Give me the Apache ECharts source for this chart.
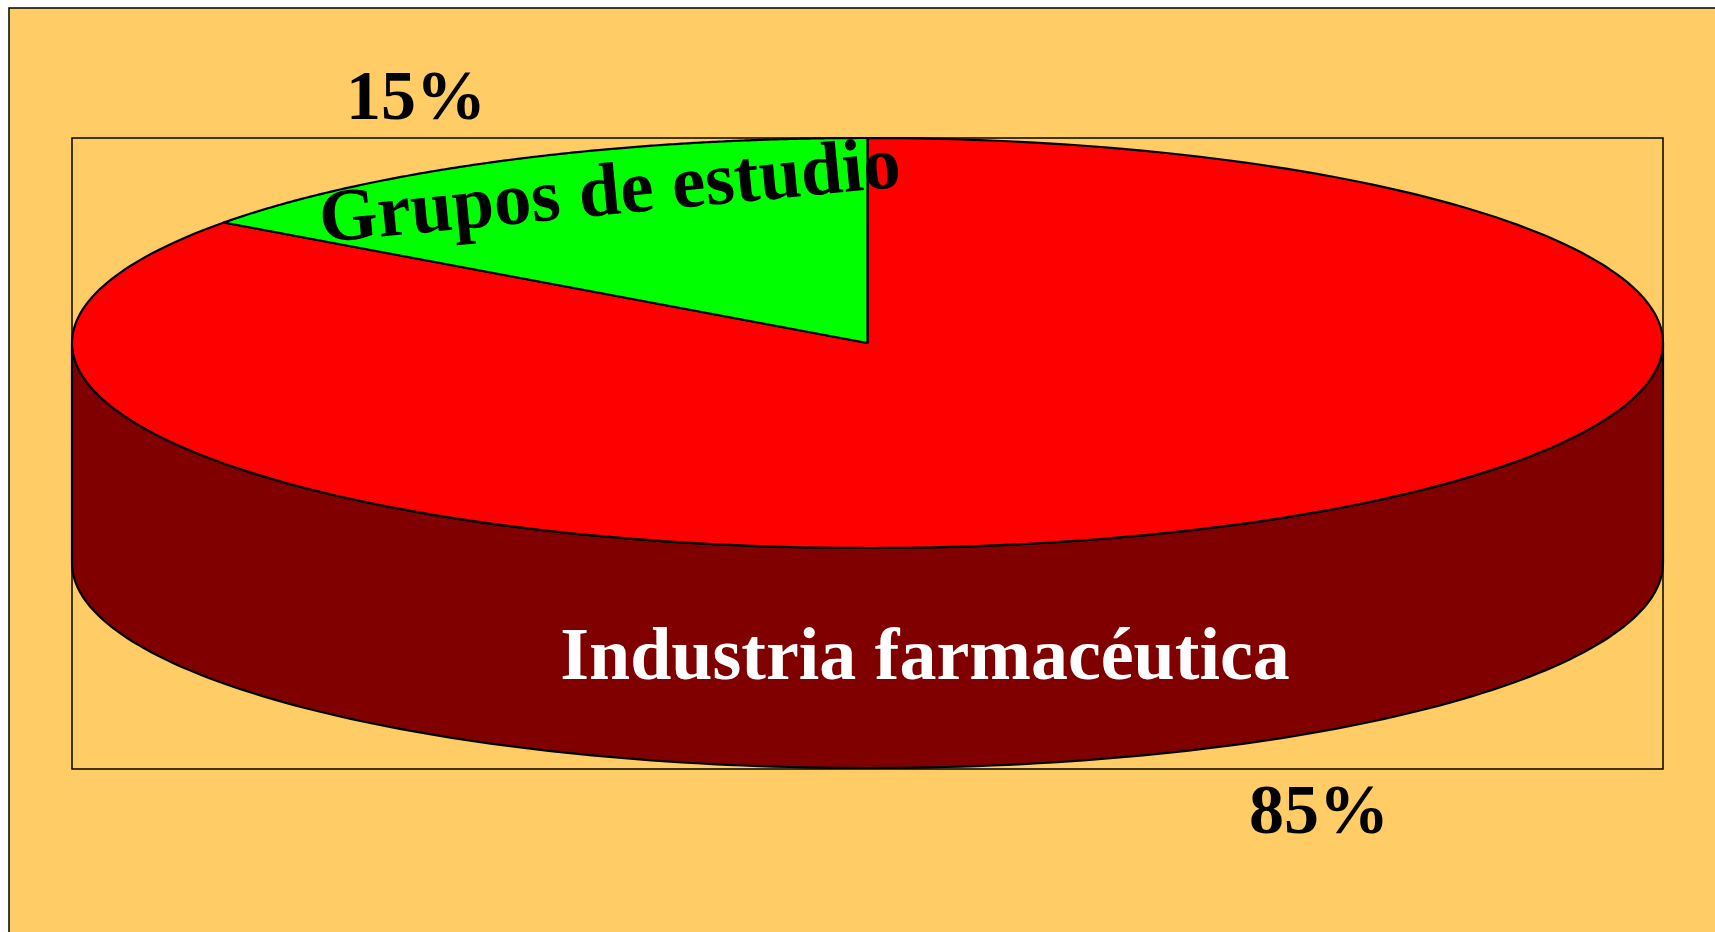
<!DOCTYPE html>
<html>
<head>
<meta charset="utf-8">
<style>
  html, body { margin: 0; padding: 0; background: #ffffff; }
  #chart { width: 1715px; height: 932px; }
</style>
<script src="https://cdn.jsdelivr.net/npm/echarts@6/dist/echarts.min.js"></script>
</head>
<body>
<div id="chart"></div>
<script>
// ---- data ----
const categories = ['Industria farmacéutica', 'Grupos de estudio'];
const shares = [85, 15];
const percentLabels = ['85%', '15%'];

// ---- styles ----
const topColors = ['#FF0000', '#00FF00'];
const sideColors = ['#800000', '#008000'];
const nameColors = ['#FFFFFF', '#000000'];

// ---- layout (fractions of the canvas) ----
const PIE = { cx: 867.5 / 1715, cy: 343 / 932, rx: 795.5 / 1715, ry: 205 / 932, depth: 220 / 932 };
const NAME_POS = [
  { x: 925 / 1715, y: 660 / 932, rot: 0, size: 74 },
  { x: 610 / 1715, y: 195 / 932, rot: 5.5, size: 75 }
];
const SERIF = '"Liberation Serif", "Times New Roman", serif';

const total = shares.reduce((a, b) => a + b, 0);

function renderItem(params, api) {
  const W = api.getWidth(), H = api.getHeight();
  const cx = PIE.cx * W, cy = PIE.cy * H, rx = PIE.rx * W, ry = PIE.ry * H, depth = PIE.depth * H;
  const i = params.dataIndex;
  const v = api.value(0);
  let before = 0;
  for (let k = 0; k < i; k++) before += shares[k];
  const a0 = Math.PI / 2 - (before / total) * 2 * Math.PI;
  const a1 = Math.PI / 2 - ((before + v) / total) * 2 * Math.PI;
  const pt = (a, dz) => [cx + rx * Math.cos(a), cy - ry * Math.sin(a) + (dz || 0)];
  const children = [];

  // side (front half only: sin(a) < 0)
  for (let m = -4; m <= 2; m += 2) {
    const lo = Math.max(a1, (m - 1) * Math.PI);
    const hi = Math.min(a0, m * Math.PI);
    if (hi - lo > 1e-6) {
      const pts = [];
      const n = 160;
      for (let s = 0; s <= n; s++) pts.push(pt(hi - (hi - lo) * s / n, 0));
      for (let s = n; s >= 0; s--) pts.push(pt(hi - (hi - lo) * s / n, depth));
      children.push({
        type: 'polygon',
        shape: { points: pts },
        style: { fill: sideColors[i], stroke: '#000', lineWidth: 2.2, lineJoin: 'round' }
      });
    }
  }

  // top face
  const topPts = [[cx, cy]];
  const n = 240;
  for (let s = 0; s <= n; s++) topPts.push(pt(a0 + (a1 - a0) * s / n, 0));
  children.push({
    type: 'polygon',
    shape: { points: topPts },
    style: { fill: topColors[i], stroke: '#000', lineWidth: 2.2, lineJoin: 'round' }
  });

  // percent label outside
  const am = (a0 + a1) / 2;
  const sn = Math.sin(am);
  children.push({
    type: 'text',
    x: cx + 1.25 * rx * Math.cos(am),
    y: cy - 1.35 * ry * sn + (sn < 0 ? depth : 0) + 5,
    style: {
      text: percentLabels[i],
      font: 'bold 70px ' + SERIF,
      fill: '#000',
      align: 'center',
      verticalAlign: 'middle'
    },
    z2: 10
  });

  // category label
  const np = NAME_POS[i];
  children.push({
    type: 'text',
    x: np.x * W,
    y: np.y * H,
    rotation: np.rot * Math.PI / 180,
    style: {
      text: categories[i],
      font: 'bold ' + np.size + 'px ' + SERIF,
      fill: nameColors[i],
      align: 'center',
      verticalAlign: 'middle'
    },
    z2: 10
  });

  return { type: 'group', children: children };
}

const chart = echarts.init(document.getElementById('chart'), null, { renderer: 'canvas' });
chart.setOption({
  backgroundColor: '#ffffff',
  animation: false,
  graphic: [
    {
      type: 'rect', z: 0,
      shape: { x: 9, y: 8, width: 1800, height: 1000 },
      style: { fill: '#FFCC66', stroke: '#000', lineWidth: 1.5 }
    },
    {
      type: 'rect', z: 1,
      shape: { x: 72, y: 138, width: 1591, height: 631 },
      style: { fill: 'none', stroke: '#000', lineWidth: 1.5 }
    }
  ],
  series: [{
    type: 'custom',
    coordinateSystem: 'none',
    z: 5,
    renderItem: renderItem,
    data: shares.map((s, idx) => ({ name: categories[idx], value: [s] }))
  }]
});
</script>
</body>
</html>
